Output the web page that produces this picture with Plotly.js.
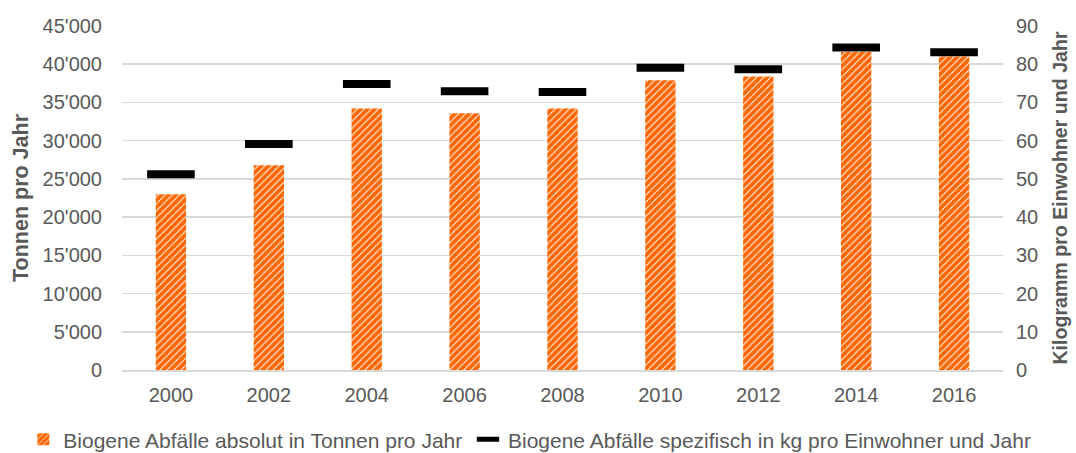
<!DOCTYPE html>
<html>
<head>
<meta charset="utf-8">
<script src="https://cdn.plot.ly/plotly-3.0.1.min.js"></script>
<style>
  html, body { margin: 0; padding: 0; background: #ffffff; }
  #chart { width: 1076px; height: 453px; }
</style>
</head>
<body>
<div id="chart"></div>
<script>
const years = ["2000", "2002", "2004", "2006", "2008", "2010", "2012", "2014", "2016"];
const tonnen = [23000, 26800, 34200, 33600, 34200, 37900, 38400, 41600, 41000];
const kgProEinwohner = [51.2, 59.1, 74.8, 72.9, 72.7, 79.1, 78.7, 84.4, 83.1];
const leftTickVals = [0, 5000, 10000, 15000, 20000, 25000, 30000, 35000, 40000, 45000];
const leftTickText = ["0", "5'000", "10'000", "15'000", "20'000", "25'000", "30'000", "35'000", "40'000", "45'000"];
const rightTickVals = [0, 10, 20, 30, 40, 50, 60, 70, 80, 90];
const seriesNames = ["Biogene Abfälle absolut in Tonnen pro Jahr", "Biogene Abfälle spezifisch in kg pro Einwohner und Jahr"];

const font = "Liberation Sans, Arial, sans-serif";
const textColor = "#595959";

const traces = [
  {
    type: "bar",
    x: years,
    y: tonnen,
    name: seriesNames[0],
    legend: "legend",
    width: 0.31,
    marker: {
      color: "#FF6600",
      line: { width: 0 },
      pattern: { shape: "/", fgcolor: "#ffffff", bgcolor: "#FF6600", size: 5, solidity: 0.2, fillmode: "replace" }
    },
    hoverinfo: "x+y"
  },
  {
    type: "scatter",
    mode: "markers",
    x: years,
    y: kgProEinwohner,
    yaxis: "y2",
    name: seriesNames[1],
    legend: "legend2",
    marker: { symbol: "line-ew", size: 34, color: "#000000", line: { width: 8, color: "#000000" } },
    hoverinfo: "x+y"
  }
];

const legendFont = { family: font, size: 21, color: textColor };

const layout = {
  width: 1076,
  height: 453,
  autosize: false,
  margin: { l: 122, r: 73, t: 26, b: 83, autoexpand: false },
  paper_bgcolor: "#ffffff",
  plot_bgcolor: "#ffffff",
  font: { family: font, size: 20, color: textColor },
  showlegend: true,
  legend: {
    orientation: "h",
    x: -0.112, xref: "paper", xanchor: "left",
    y: -0.143, yanchor: "top",
    font: legendFont,
    itemwidth: 30
  },
  legend2: {
    orientation: "h",
    x: 0.3927, xref: "paper", xanchor: "left",
    y: -0.143, yanchor: "top",
    font: legendFont,
    itemwidth: 30
  },
  xaxis: {
    type: "category",
    range: [-0.5, 8.5],
    autorange: false,
    showgrid: false,
    showline: true,
    linecolor: "#d9d9d9",
    linewidth: 1.5,
    ticks: "",
    tickangle: 0,
    ticklabelstandoff: 6,
    tickfont: { family: font, size: 20, color: textColor },
    fixedrange: true
  },
  yaxis: {
    range: [0, 45000],
    tickvals: leftTickVals,
    ticktext: leftTickText,
    showgrid: true,
    gridcolor: "#d9d9d9",
    gridwidth: 1.5,
    zeroline: false,
    showline: false,
    ticks: "",
    ticklabelstandoff: 19,
    tickfont: { family: font, size: 20, color: textColor },
    title: { text: "Tonnen pro Jahr", font: { family: font, size: 21.5, color: textColor, weight: "bold" }, standoff: 8 },
    fixedrange: true
  },
  yaxis2: {
    overlaying: "y",
    side: "right",
    range: [0, 90],
    tickvals: rightTickVals,
    showgrid: false,
    zeroline: false,
    showline: false,
    ticks: "",
    ticklabelstandoff: 12,
    tickfont: { family: font, size: 20, color: textColor },
    title: { text: "Kilogramm pro Einwohner und Jahr", font: { family: font, size: 19.6, color: textColor, weight: "bold" }, standoff: 16 },
    fixedrange: true
  },
  bargap: 0.69
};

Plotly.newPlot("chart", traces, layout, { displayModeBar: false, staticPlot: true });
</script>
</body>
</html>
